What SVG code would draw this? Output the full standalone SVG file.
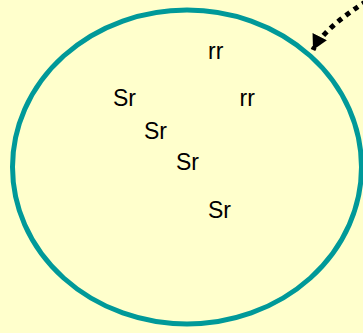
<svg xmlns="http://www.w3.org/2000/svg" width="363" height="333" viewBox="0 0 363 333">
<defs>
<style>
.lbl{font-family:"Liberation Sans",Arial,sans-serif;font-size:23px;fill:#000}
.ring{fill:none;stroke:#009999;stroke-width:5}
.conn{fill:none;stroke:#000;stroke-width:5;stroke-dasharray:5 5}
</style>
<marker id="ah" markerUnits="userSpaceOnUse" markerWidth="16" markerHeight="16" refX="15" refY="8" orient="auto">
<path d="M0,0 L15,8 L0,16 Z" fill="#000"/>
</marker>
</defs>
<rect width="363" height="333" fill="#ffffcc"/>
<g id="cell">
<ellipse class="ring" cx="187" cy="167" rx="174.5" ry="157"/>
</g>
<g id="labels">
<text id="t1" class="lbl" x="208" y="59">rr</text>
<text id="t2" class="lbl" x="113" y="106">Sr</text>
<text id="t3" class="lbl" x="239.5" y="106">rr</text>
<text id="t4" class="lbl" x="144" y="139">Sr</text>
<text id="t5" class="lbl" x="176" y="170">Sr</text>
<text id="t6" class="lbl" x="208" y="218">Sr</text>
</g>
<g id="connectors">
<path class="conn" d="M375,-4 Q325,26 313,50" marker-end="url(#ah)"/>
</g>
</svg>
